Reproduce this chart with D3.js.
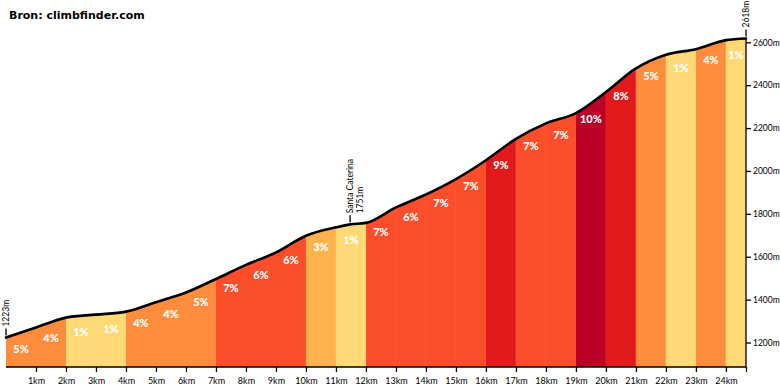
<!DOCTYPE html>
<html>
<head>
<meta charset="utf-8">
<script src="https://cdn.jsdelivr.net/npm/d3@7"></script>
<style>
  body { margin: 0; background: #fff; }
  svg { display: block; }
  .axis text { font-family: Lato, "Open Sans", sans-serif; font-size: 9px; fill: #000; }
  .axis.yax text { font-size: 8.5px; }
  .axis path, .axis line { stroke: #000; stroke-width: 1.3; }
  .grade { font-family: Lato, sans-serif; font-weight: 900; font-size: 11px; fill: #fff; }
  .note { font-family: Lato, sans-serif; font-size: 8.5px; fill: #000; }
</style>
</head>
<body>
<div id="root"></div>
<script>
// distance (km) and elevation (m)
const distances = [0, 1, 2, 3, 4, 5, 6, 7, 8, 9, 10, 11, 11.47, 12, 13, 14, 15, 16, 17, 18, 19, 20, 21, 22, 23, 24, 24.67];
const elevations = [1223, 1270, 1316, 1330, 1344, 1388, 1433, 1496, 1562, 1620, 1698, 1737, 1751, 1758, 1830, 1890, 1962, 2050, 2150, 2222, 2270, 2368, 2478, 2542, 2568, 2610, 2618];

// gradient per kilometre
const segStarts = [0, 1, 2, 3, 4, 5, 6, 7, 8, 9, 10, 11, 12, 13, 14, 15, 16, 17, 18, 19, 20, 21, 22, 23, 24];
const grades = [5, 4, 1, 1, 4, 4, 5, 7, 6, 6, 3, 1, 7, 6, 7, 7, 9, 7, 7, 10, 8, 5, 1, 4, 1];

const kmTicks = d3.range(1, 25);
const elevTicks = [1200, 1400, 1600, 1800, 2000, 2200, 2400, 2600];

const waypoints = [
  { km: 0, lines: ["1223m"] },
  { km: 11.47, lines: ["Santa Caterina", "1751m"] },
  { km: 24.67, lines: ["2618m"] }
];

const totalKm = 24.67;
const outerWidth = 780, outerHeight = 390;
const baseY = 367;

const x = d3.scaleLinear().domain([0, totalKm]).range([6, 746]);
const y = d3.scaleLinear().domain([1200, 2600]).range([342.5, 42.3]);

const color = g => g <= 2 ? "#fed976" : g <= 3 ? "#feb24c" : g <= 5 ? "#fd8d3c" : g <= 7 ? "#fc4e2a" : g <= 9 ? "#e31a1c" : "#bd0026";

const pts = distances.map((d, i) => [d, elevations[i]]);

const svg = d3.select("#root").append("svg")
  .attr("width", outerWidth)
  .attr("height", outerHeight);

svg.append("text")
  .attr("x", 9).attr("y", 19)
  .style("font-family", "DejaVu Sans")
  .style("font-weight", "bold")
  .style("font-size", "11px")
  .text("Bron: climbfinder.com");

const curve = d3.curveMonotoneX;
const area = d3.area().x(d => x(d[0])).y0(baseY).y1(d => y(d[1])).curve(curve);
const line = d3.line().x(d => x(d[0])).y(d => y(d[1])).curve(curve);

svg.append("clipPath").attr("id", "clip")
  .append("path").attr("d", area(pts));

// interpolate elevation along the drawn path for label placement
const pathNode = svg.append("path").attr("d", line(pts)).attr("fill", "none").attr("stroke", "none").node();
const pathLen = pathNode.getTotalLength();
function lineYAt(px) {
  let lo = 0, hi = pathLen;
  for (let k = 0; k < 30; k++) {
    const mid = (lo + hi) / 2;
    if (pathNode.getPointAtLength(mid).x < px) lo = mid; else hi = mid;
  }
  return pathNode.getPointAtLength(lo).y;
}

const segs = segStarts.map((s, i) => ({ start: s, end: Math.min(s + 1, totalKm), grade: grades[i] }));

svg.append("g").attr("clip-path", "url(#clip)")
  .selectAll("rect").data(segs).join("rect")
  .attr("x", d => x(d.start))
  .attr("width", d => x(d.end) - x(d.start))
  .attr("y", 0)
  .attr("height", baseY)
  .attr("fill", d => color(d.grade));

svg.append("path")
  .attr("d", line(pts))
  .attr("fill", "none")
  .attr("stroke", "#000")
  .attr("stroke-width", 2.6)
  .attr("stroke-linecap", "round");

svg.append("g").selectAll("text").data(segs).join("text")
  .attr("class", "grade")
  .attr("text-anchor", "middle")
  .attr("x", d => x((d.start + d.end) / 2))
  .attr("y", d => lineYAt(x((d.start + d.end) / 2)) + 20)
  .text(d => d.grade + "%");

// axes
const xAxis = d3.axisBottom(x).tickValues(kmTicks.concat([totalKm])).tickSize(5).tickPadding(4)
  .tickFormat(d => d === totalKm ? "" : d + "km");
svg.append("g").attr("class", "axis")
  .attr("transform", `translate(0,${baseY})`)
  .call(xAxis)
  .call(g => g.select(".domain").attr("d", `M${x(0)},0H${x(totalKm)}`))
  .selectAll("text").attr("dy", "0.9em");

const yAxis = d3.axisRight(y).tickValues(elevTicks).tickSize(5).tickPadding(2).tickFormat(d => d + "m");
svg.append("g").attr("class", "axis yax")
  .attr("transform", `translate(${x(totalKm)},0)`)
  .call(yAxis)
  .call(g => g.select(".domain").attr("d", `M0,${baseY}V${y(2618)}`));

// waypoint markers
const wp = svg.append("g").selectAll("g").data(waypoints).join("g")
  .attr("transform", d => {
    const e = elevations[distances.indexOf(d.km)];
    return `translate(${x(d.km)},${y(e)})`;
  });
wp.append("line").attr("x1", 0).attr("x2", 0).attr("y1", -2).attr("y2", -9)
  .attr("stroke", "#000").attr("stroke-width", 1.3);
wp.each(function (d) {
  const g = d3.select(this);
  d.lines.forEach((t, i) => {
    g.append("text").attr("class", "note")
      .attr("transform", `translate(${3 + i * 9.5},-11) rotate(-90)`)
      .text(t);
  });
});
</script>
</body>
</html>
